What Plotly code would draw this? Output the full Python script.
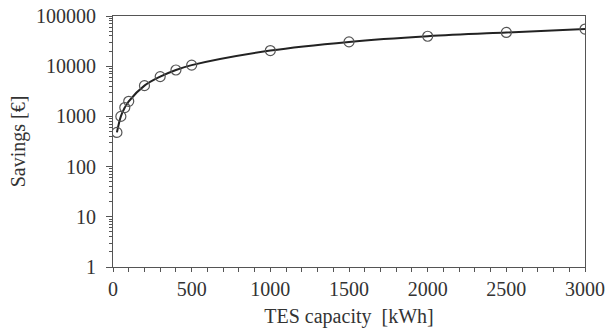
import plotly.graph_objects as go

capacity_kwh = [25, 50, 75, 100, 200, 300, 400, 500, 1000, 1500, 2000, 2500, 3000]
savings_eur = [480, 1000, 1500, 2000, 4100, 6200, 8400, 10500, 20500, 30500, 39500, 47000, 55000]

x_ticks = [0, 500, 1000, 1500, 2000, 2500, 3000]
y_ticks = [1, 10, 100, 1000, 10000, 100000]
y_tick_labels = ["1", "10", "100", "1000", "10000", "100000"]

font_family = "Liberation Serif, Times New Roman, serif"

fig = go.Figure()
fig.add_trace(go.Scatter(
    x=capacity_kwh, y=savings_eur, mode="lines",
    line=dict(color="#222222", width=2, shape="spline"),
    showlegend=False, hoverinfo="skip"))
fig.add_trace(go.Scatter(
    x=capacity_kwh, y=savings_eur, mode="markers",
    marker=dict(symbol="circle-open", size=10, color="#555555", line=dict(width=1.2, color="#555555")),
    showlegend=False))

minor_y = []
for d in [1, 10, 100, 1000, 10000]:
    for m in range(2, 10):
        minor_y.append(d * m)

fig.update_layout(
    width=605, height=332,
    margin=dict(l=113, r=20, t=16, b=65),
    paper_bgcolor="white", plot_bgcolor="white",
    font=dict(family=font_family, size=20, color="#333333"),
    xaxis=dict(
        range=[0, 3000], tickvals=x_ticks, ticks="outside", ticklen=4, tickwidth=1,
        tickcolor="#555555", showgrid=False, zeroline=False, automargin=False,
        showline=True, linecolor="#555555", linewidth=1, mirror=True,
        minor=dict(dtick=100, ticks="outside", ticklen=4, tickcolor="#555555", showgrid=False),
        title=dict(text="TES capacity  [kWh]", font=dict(size=20), standoff=9),
        tickfont=dict(size=20), ticklabelstandoff=0,
    ),
    yaxis=dict(
        type="log", range=[0, 5], tickvals=y_ticks, ticktext=y_tick_labels,
        ticks="outside", ticklen=6, tickwidth=1, tickcolor="#555555",
        showgrid=False, zeroline=False, automargin=False,
        showline=True, linecolor="#555555", linewidth=1, mirror=True,
        minor=dict(tickvals=minor_y, ticks="outside", ticklen=3, tickcolor="#555555", showgrid=False),
        title=dict(text="Savings [€]", font=dict(size=20), standoff=5),
        tickfont=dict(size=20), ticklabelstandoff=6,
    ),
)

fig.write_html("out.html", config={"displayModeBar": False},
               post_script="document.body.style.margin='0';")
